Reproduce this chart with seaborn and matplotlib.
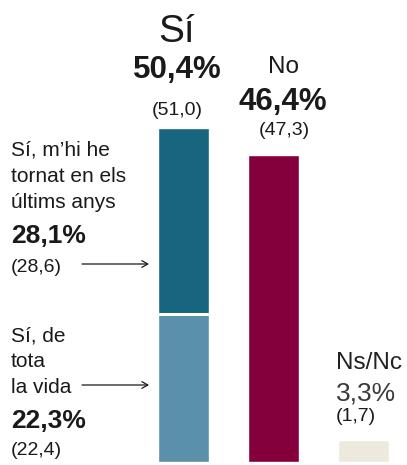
import matplotlib
matplotlib.use("Agg")
import matplotlib.pyplot as plt
import seaborn as sns

# answers and shares (%), with the previous survey in brackets
answers = ["Sí", "No", "Ns/Nc"]
shares = [50.4, 46.4, 3.3]
previous = [51.0, 47.3, 1.7]

# breakdown of the "Sí" bar
si_parts = ["Sí, m’hi he\ntornat en els\núltims anys", "Sí, de\ntota\nla vida"]
si_shares = [28.1, 22.3]
si_previous = [28.6, 22.4]

bar_colors = ["#17657f", "#84003d", "#edeadd"]
light_blue = "#5a90aa"
ink = "#1a1a1a"

W, H = 407, 465
PX_PER_UNIT = 6.62
SPACING = 90


def fmt(v, pct=True):
    s = f"{v:.1f}".replace(".", ",")
    return s + "%" if pct else f"({s})"


sns.set_theme(style="white")
plt.rcParams["font.family"] = ["Liberation Sans", "DejaVu Sans"]

fig = plt.figure(figsize=(W / 100, H / 100), dpi=100)
ax = fig.add_axes([0, 3 / H, 1, (H - 3) / H])

sns.barplot(x=answers, y=shares, hue=answers, palette=bar_colors, order=answers,
            width=51 / SPACING, legend=False, saturation=1, ax=ax)
sns.barplot(x=[answers[0]], y=[si_shares[1]], order=answers, color=light_blue,
            width=51 / SPACING, saturation=1, ax=ax)
p = ax.patches[-1]
ax.hlines(si_shares[1], p.get_x(), p.get_x() + p.get_width(), color="white", lw=2.2)

first = 183.5
ax.set_xlim(-first / SPACING, (W - first) / SPACING)
ax.set_ylim(0, (H - 3) / PX_PER_UNIT)
ax.axis("off")


def put(x, y, s, **kw):
    kw.setdefault("color", ink)
    kw.setdefault("va", "baseline")
    fig.text(x / W, 1 - y / H, s, **kw)


# "Sí" header
put(177, 42, answers[0], size=28, ha="center")
put(177, 78, fmt(shares[0]), size=22.5, weight="bold", ha="center")
put(177, 115, fmt(previous[0], False), size=14, ha="center")

# "No" header
put(284, 73, answers[1], size=17.5, ha="center")
put(283, 110, fmt(shares[1]), size=22.5, weight="bold", ha="center")
put(284, 135, fmt(previous[1], False), size=14, ha="center")

# "Ns/Nc"
put(336, 369, answers[2], size=17.5, color="#222222")
put(336, 400, fmt(shares[2]), size=19, color="#3a3a3a")
put(336, 421, fmt(previous[2], False), size=14)

# breakdown labels on the left
label_base = [156, 341]
pct_base = [243, 428]
prev_base = [272, 455]
arrow_y = [264, 385]
for i in range(2):
    for j, line in enumerate(si_parts[i].split("\n")):
        put(11, label_base[i] + j * 26, line, size=15)
    put(11, pct_base[i], fmt(si_shares[i]), size=19, weight="bold")
    put(11, prev_base[i], fmt(si_previous[i], False), size=14)
    ax.annotate("", xy=(149 / W, 1 - arrow_y[i] / H), xytext=(82 / W, 1 - arrow_y[i] / H),
                xycoords="figure fraction", textcoords="figure fraction",
                arrowprops=dict(arrowstyle="->,head_length=0.35,head_width=0.2",
                                color=ink, lw=0.9, shrinkA=0, shrinkB=0))

fig.savefig("out.png", dpi=100)
